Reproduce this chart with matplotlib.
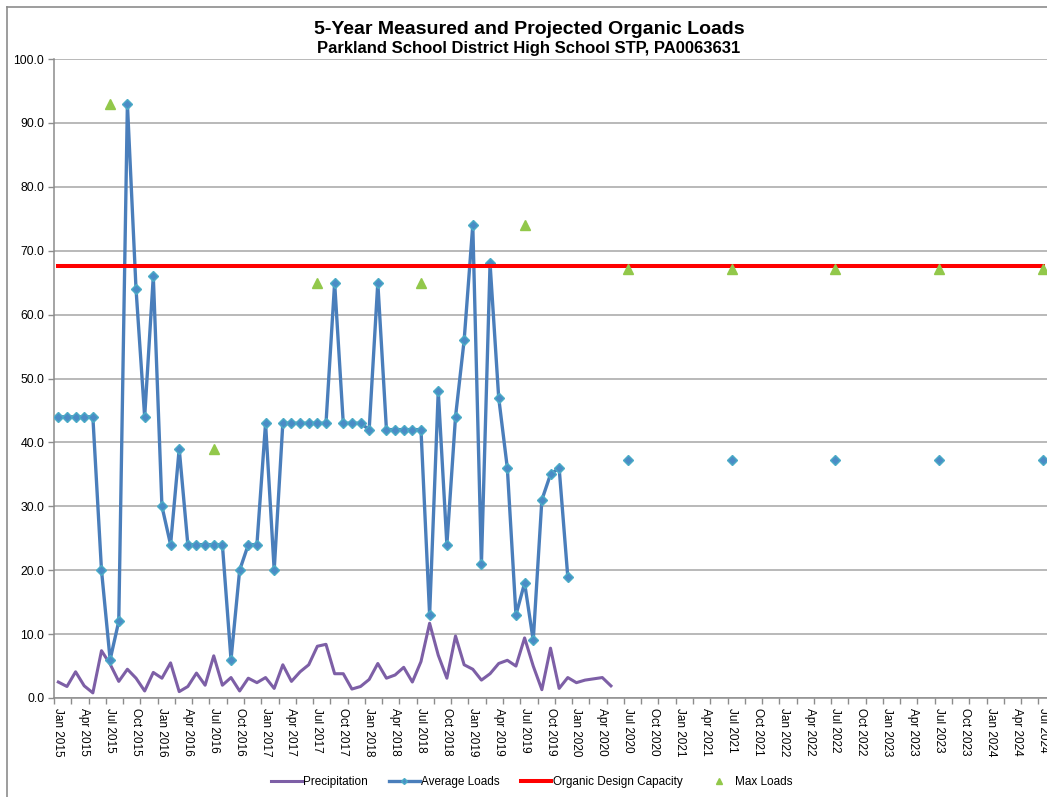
import numpy as np
import matplotlib
matplotlib.use("Agg")
import matplotlib.pyplot as plt
from matplotlib.lines import Line2D
from matplotlib.ticker import FixedLocator, FuncFormatter

plt.rcParams['font.family'] = ['Liberation Sans', 'DejaVu Sans']

# ---------------- data ----------------
month_names = ["Jan", "Feb", "Mar", "Apr", "May", "Jun",
               "Jul", "Aug", "Sep", "Oct", "Nov", "Dec"]
start_year = 2015
n_months = 115  # Jan 2015 .. Jul 2024
months = [f"{month_names[i % 12]} {start_year + i // 12}" for i in range(n_months)]

# Average loads, measured Jan 2015 - Dec 2019
avg_loads_measured = [
    44, 44, 44, 44, 44, 20, 6, 12, 93, 64, 44, 66,
    30, 24, 39, 24, 24, 24, 24, 24, 6, 20, 24, 24,
    43, 20, 43, 43, 43, 43, 43, 43, 65, 43, 43, 43,
    42, 65, 42, 42, 42, 42, 42, 13, 48, 24, 44, 56,
    74, 21, 68, 47, 36, 13, 18, 9, 31, 35, 36, 19,
]
proj_months = ["Jul 2020", "Jul 2021", "Jul 2022", "Jul 2023", "Jul 2024"]
avg_loads_projected = [37.3, 37.3, 37.3, 37.3, 37.3]

max_months = ["Jul 2015", "Jul 2016", "Jul 2017", "Jul 2018", "Jul 2019",
              "Jul 2020", "Jul 2021", "Jul 2022", "Jul 2023", "Jul 2024"]
max_loads = [93, 39, 65, 65, 74, 67.2, 67.2, 67.2, 67.2, 67.2]

design_capacity = 67.6

# Precipitation Jan 2015 - May 2020
precipitation = [
    2.5, 1.8, 4.1, 1.9, 0.8, 7.4, 5.3, 2.6, 4.5, 3.1, 1.1, 4.0,
    3.1, 5.5, 1.0, 1.8, 3.9, 2.0, 6.6, 2.0, 3.2, 1.1, 3.1, 2.4,
    3.2, 1.5, 5.2, 2.6, 4.1, 5.2, 8.1, 8.4, 3.8, 3.8, 1.4, 1.8,
    2.9, 5.4, 3.1, 3.6, 4.8, 2.5, 5.7, 11.7, 6.7, 3.1, 9.7, 5.2,
    4.5, 2.8, 3.8, 5.4, 5.9, 5.0, 9.4, 5.0, 1.3, 7.8, 1.5, 3.2,
    2.4, 2.8, 3.0, 3.2, 1.9,
]

# ---------------- build series ----------------
x = np.arange(n_months)
idx = {m: i for i, m in enumerate(months)}

avg = np.full(n_months, np.nan)
avg[:len(avg_loads_measured)] = avg_loads_measured
for m, v in zip(proj_months, avg_loads_projected):
    avg[idx[m]] = v

mx = np.full(n_months, np.nan)
for m, v in zip(max_months, max_loads):
    mx[idx[m]] = v

prec = np.full(n_months, np.nan)
prec[:len(precipitation)] = precipitation

cap = np.full(n_months, design_capacity)

# ---------------- figure ----------------
W, H = 1047, 797
fig = plt.figure(figsize=(W / 100, H / 100), dpi=100)

# outer chart border
fig.add_artist(Line2D([7 / W, 7 / W], [0, 1 - 7 / H], color='#8c8c8c', lw=1.2,
                      transform=fig.transFigure))
fig.add_artist(Line2D([7 / W, 1], [1 - 7 / H, 1 - 7 / H], color='#8c8c8c', lw=1.2,
                      transform=fig.transFigure))

left_px, right_px, top_px, bot_px = 54, 1047, 59, 698
ax = fig.add_axes([left_px / W, 1 - bot_px / H,
                   (right_px - left_px) / W, (bot_px - top_px) / H])

grey = '#8c8c8c'
ax.set_xlim(-0.5, n_months - 0.5)
ax.set_ylim(0, 100)
ax.set_yticks(np.arange(0, 101, 10))
ax.yaxis.set_major_formatter(FuncFormatter(lambda v, p: f"{v:.1f}"))
ax.grid(axis='y', color='#a6a6a6', lw=1.1)
ax.set_axisbelow(True)

for s in ['top', 'right']:
    ax.spines[s].set_visible(False)
for s in ['left', 'bottom']:
    ax.spines[s].set_color(grey)
    ax.spines[s].set_linewidth(1.1)

label_pos = list(range(0, n_months, 3))
ax.xaxis.set_major_locator(FixedLocator(label_pos))
ax.set_xticklabels([months[i] for i in label_pos], rotation=270, fontsize=8.5)
ax.xaxis.set_minor_locator(FixedLocator(np.arange(-0.5, n_months, 2)))
ax.tick_params(axis='x', which='major', length=0, pad=7)
ax.tick_params(axis='x', which='minor', length=4, color=grey, width=1)
ax.tick_params(axis='y', length=4, color=grey, width=1, labelsize=8.8, pad=3)

ax.plot(x, prec, color='#7d5fa6', lw=2.2, label='Precipitation', zorder=3)
ax.plot(x, avg, color='#4a7ebb', lw=2.4, marker='D', markersize=5.5,
        markerfacecolor='#4a8cc6', markeredgecolor='#4bacc6', markeredgewidth=1,
        label='Average Loads', zorder=4)
ax.plot(x, cap, color='#ff0000', lw=2.9, label='Organic Design Capacity', zorder=5)
ax.plot(x, mx, linestyle='none', marker='^', markersize=7.5, color='#92c84a',
        markeredgecolor='#92c84a', label='Max Loads', zorder=6)

leg = fig.legend(loc='center', bbox_to_anchor=(532 / W, 1 - 782 / H), ncol=4,
                 frameon=False, fontsize=8.5, handlelength=2.6, handletextpad=0.1,
                 columnspacing=1.8, markerscale=0.55)

fig.text(529 / W, 1 - 30 / H, "5-Year Measured and Projected Organic Loads",
         ha='center', va='center', fontsize=14, fontweight='bold')
fig.text(529 / W, 1 - 48 / H, "Parkland School District High School STP, PA0063631",
         ha='center', va='center', fontsize=12, fontweight='bold')

fig.savefig("out.png", dpi=100)
